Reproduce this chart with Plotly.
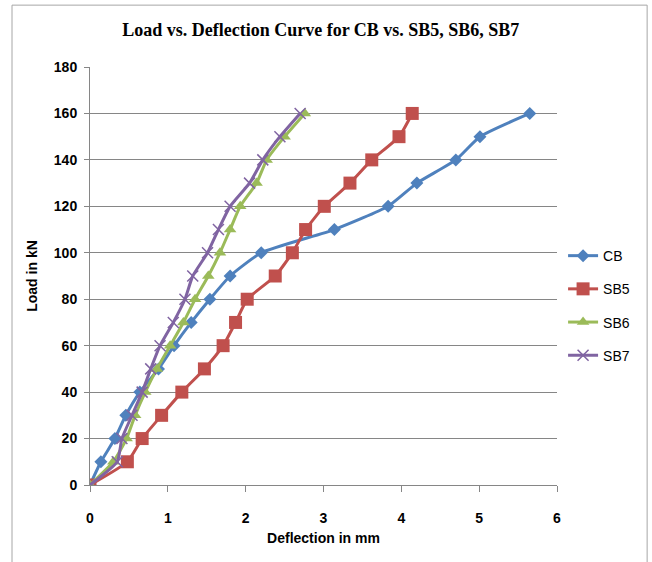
import plotly.graph_objects as go

loads = [0, 10, 20, 30, 40, 50, 60, 70, 80, 90, 100, 110, 120, 130, 140, 150, 160]
cb_defl = [0, 0.14, 0.32, 0.46, 0.64, 0.88, 1.08, 1.30, 1.54, 1.80, 2.20, 3.14, 3.83, 4.20, 4.70, 5.01, 5.65]
sb5_defl = [0, 0.48, 0.67, 0.92, 1.18, 1.47, 1.71, 1.87, 2.02, 2.38, 2.60, 2.77, 3.01, 3.34, 3.62, 3.97, 4.14]
sb6_defl = [0, 0.30, 0.47, 0.58, 0.71, 0.86, 1.03, 1.20, 1.35, 1.52, 1.67, 1.80, 1.93, 2.14, 2.27, 2.50, 2.76]
sb7_defl = [0, 0.35, 0.41, 0.54, 0.67, 0.78, 0.90, 1.07, 1.22, 1.32, 1.51, 1.65, 1.80, 2.05, 2.22, 2.44, 2.70]

names = ["CB", "SB5", "SB6", "SB7"]
colors = ["#4F81BD", "#C0504D", "#9BBB59", "#8064A2"]
symbols = ["diamond", "square", "triangle-up", "x-thin-open"]
sizes = [10, 13, 11, 11]
series = [cb_defl, sb5_defl, sb6_defl, sb7_defl]

fig = go.Figure()
for name, xs, c, s, sz in zip(names, series, colors, symbols, sizes):
    marker = dict(symbol=s, size=sz, color=c)
    if s == "x-thin-open":
        marker["line"] = dict(color=c, width=1.5)
    fig.add_trace(go.Scatter(
        x=xs, y=loads, name=name, mode="lines+markers",
        line=dict(color=c, width=3, shape="spline", smoothing=0.5),
        marker=marker, legendgroup=name,
    ))

fig.add_shape(type="rect", xref="paper", yref="paper",
              x0=-0.167, x1=1.193, y0=-0.3, y1=1.148,
              line=dict(color="#A6A6A6", width=1), fillcolor="rgba(0,0,0,0)", layer="below")

fig.update_layout(
    width=652, height=562,
    margin=dict(l=90, r=95, t=67, b=77),
    paper_bgcolor="white", plot_bgcolor="white",
    title=dict(text="<b>Load vs. Deflection Curve for CB vs. SB5, SB6, SB7</b>",
               x=0.492, xanchor="center", y=0.947, yanchor="middle",
               font=dict(family="Liberation Serif", size=18, color="#000000")),
    font=dict(family="Liberation Sans", color="#000000"),
    legend=dict(x=1.013, xanchor="left", y=0.586, yanchor="top",
                font=dict(family="Liberation Sans", size=14, color="#000000"),
                traceorder="grouped", tracegroupgap=12, bgcolor="rgba(0,0,0,0)"),
    xaxis=dict(range=[0, 6], dtick=1, showgrid=False, zeroline=False,
               showline=True, linecolor="#868686", linewidth=1,
               ticks="outside", ticklen=6, tickcolor="#868686",
               ticklabelstandoff=14,
               tickfont=dict(size=14, family="Liberation Sans"),
               title=dict(text="<b>Deflection in mm</b>", font=dict(size=14), standoff=8)),
    yaxis=dict(range=[0, 180], dtick=20, showgrid=True, gridcolor="#868686", gridwidth=1,
               zeroline=False, showline=True, linecolor="#868686", linewidth=1,
               ticks="outside", ticklen=5, tickcolor="#868686",
               ticklabelstandoff=4,
               tickfont=dict(size=14, family="Liberation Sans"),
               title=dict(text="<b>Load in kN</b>", font=dict(size=14), standoff=12)),
)
fig.update_xaxes(tickprefix="<b>", ticksuffix="</b>")
fig.update_yaxes(tickprefix="<b>", ticksuffix="</b>")

fig.write_html("out.html")
